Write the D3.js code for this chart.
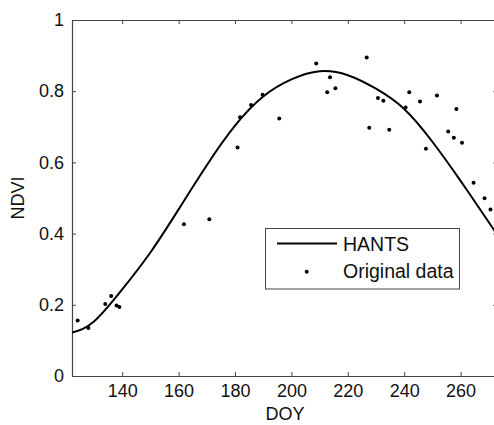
<!DOCTYPE html>
<html>
<head>
<meta charset="utf-8">
<script src="https://cdn.jsdelivr.net/npm/d3@7"></script>
<style>
  html, body { margin: 0; padding: 0; background: #fff; }
  svg { display: block; }
  text { font-family: "Liberation Sans", Arial, sans-serif; fill: #111; }
</style>
</head>
<body>
<script>
// ---- data ----
const obsDoy  = [124.2, 128.0, 134.0, 136.1, 138.0, 139.0, 161.9, 170.9, 180.9, 181.8, 185.7, 189.8, 195.7,
                 208.8, 212.7, 213.7, 215.6, 226.7, 227.6, 230.7, 232.6, 234.7, 240.5, 241.8, 245.6, 247.7,
                 251.6, 255.6, 257.6, 258.5, 260.5, 264.6, 268.5, 270.6];
const obsNdvi = [0.156, 0.135, 0.202, 0.225, 0.198, 0.194, 0.426, 0.440, 0.642, 0.727, 0.761, 0.790, 0.723,
                 0.878, 0.797, 0.839, 0.808, 0.895, 0.697, 0.781, 0.773, 0.692, 0.754, 0.797, 0.771, 0.638,
                 0.788, 0.687, 0.669, 0.750, 0.655, 0.543, 0.499, 0.468];
const fitDoy  = [122.2, 130, 140, 150, 160, 170, 180, 190, 200, 210, 220, 230, 240, 250, 260, 270, 274];
const fitNdvi = [0.122, 0.153, 0.243, 0.347, 0.468, 0.592, 0.703, 0.785, 0.833, 0.856, 0.845, 0.807, 0.750,
                 0.658, 0.548, 0.432, 0.385];
const xTicks = [140, 160, 180, 200, 220, 240, 260];
const yTicks = [0, 0.2, 0.4, 0.6, 0.8, 1];
const yTickLabels = ["0", "0.2", "0.4", "0.6", "0.8", "1"];
const legendLabels = ["HANTS", "Original data"];
const xLabel = "DOY", yLabel = "NDVI";

(function () {
// ---- layout ----
const W = 494, H = 425;
const mLeft = 72, mTop = 20, mBottom = 376;
const xDomain = [122.2, 273];
const mRight = mLeft + (xDomain[1] - xDomain[0]) * 2.82;

const svg = d3.select("body").append("svg").attr("width", W).attr("height", H);

const x = d3.scaleLinear().domain(xDomain).range([mLeft, mRight]);
const y = d3.scaleLinear().domain([0, 1]).range([mBottom, mTop]);

const axisColor = "#444";

svg.append("clipPath").attr("id", "clip")
  .append("rect").attr("x", mLeft).attr("y", mTop).attr("width", mRight - mLeft).attr("height", mBottom - mTop);

const xAxisB = d3.axisBottom(x).tickValues(xTicks).tickSizeInner(-4).tickSizeOuter(0).tickPadding(8);
const xAxisT = d3.axisTop(x).tickValues(xTicks).tickSizeInner(-4).tickSizeOuter(0).tickFormat("");
const yAxisL = d3.axisLeft(y).tickValues(yTicks).tickSizeInner(-4).tickSizeOuter(0).tickPadding(8)
  .tickFormat((d, i) => yTickLabels[i]);
const yAxisR = d3.axisRight(y).tickValues(yTicks).tickSizeInner(-4).tickSizeOuter(0).tickFormat("");

function styleAxis(g) {
  g.select(".domain").attr("stroke", axisColor).attr("stroke-width", 1.2);
  g.selectAll(".tick line").attr("stroke", axisColor).attr("stroke-width", 1);
  g.selectAll(".tick text").attr("font-size", 18)
    .attr("font-family", "Liberation Sans, Arial, sans-serif").attr("fill", "#111");
}

svg.append("g").attr("transform", `translate(0,${mBottom})`).call(xAxisB).call(styleAxis);
svg.append("g").attr("transform", `translate(0,${mTop})`).call(xAxisT).call(styleAxis);
svg.append("g").attr("transform", `translate(${mLeft},0)`).call(yAxisL).call(styleAxis);
svg.append("g").attr("transform", `translate(${mRight},0)`).call(yAxisR).call(styleAxis);

// fitted curve
const line = d3.line().x((d, i) => x(fitDoy[i])).y((d, i) => y(fitNdvi[i]))
  .curve(d3.curveNatural);
svg.append("path").datum(fitDoy).attr("d", line)
  .attr("clip-path", "url(#clip)")
  .attr("fill", "none").attr("stroke", "#000").attr("stroke-width", 2);

// observations
svg.append("g").attr("clip-path", "url(#clip)").selectAll("circle").data(obsDoy).join("circle")
  .attr("cx", d => x(d)).attr("cy", (d, i) => y(obsNdvi[i])).attr("r", 2).attr("fill", "#000");

// axis labels
svg.append("text").attr("x", 285).attr("y", 420)
  .attr("text-anchor", "middle").attr("font-size", 18).text(xLabel);
svg.append("text").attr("transform", `translate(24,${(mTop + mBottom) / 2}) rotate(-90)`)
  .attr("text-anchor", "middle").attr("font-size", 18).text(yLabel);

// legend
const lg = svg.append("g");
lg.append("rect").attr("x", 265.5).attr("y", 228.5).attr("width", 194).attr("height", 60.5)
  .attr("fill", "#fff").attr("stroke", axisColor).attr("stroke-width", 1);
lg.append("line").attr("x1", 277).attr("x2", 337).attr("y1", 243.5).attr("y2", 243.5)
  .attr("stroke", "#000").attr("stroke-width", 2);
lg.append("circle").attr("cx", 306.7).attr("cy", 271.7).attr("r", 2).attr("fill", "#000");
lg.selectAll("text.lbl").data(legendLabels).join("text").attr("class", "lbl")
  .attr("x", 343).attr("y", (d, i) => 251 + i * 27).attr("font-size", 19.5).text(d => d);
})();
</script>
</body>
</html>
